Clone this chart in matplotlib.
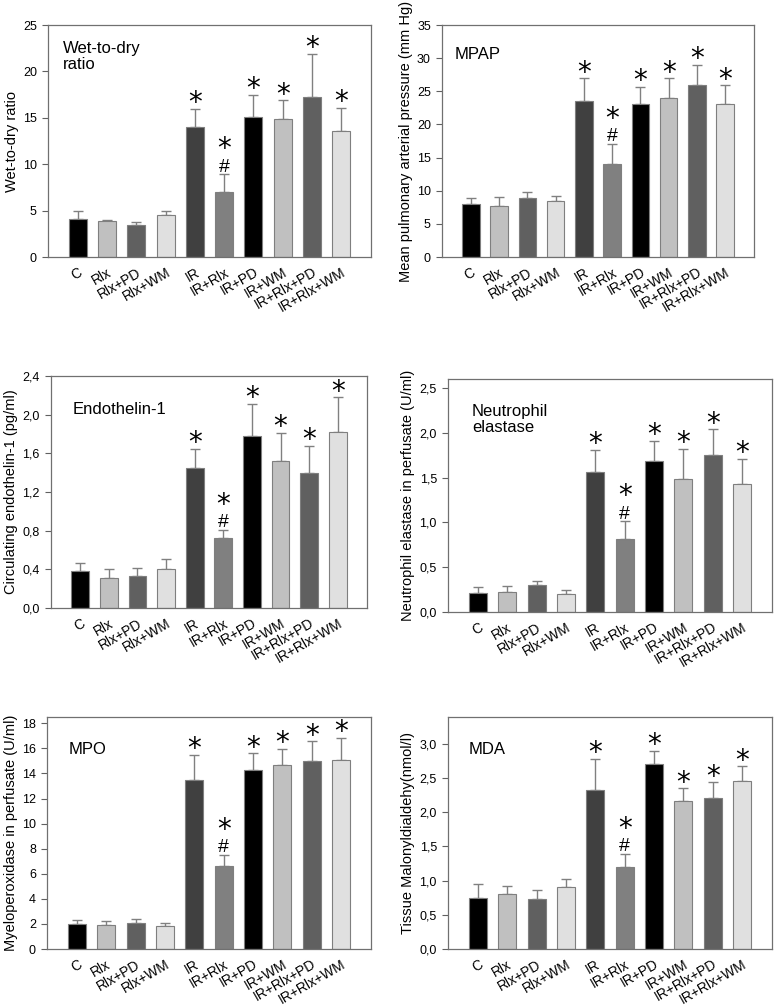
import numpy as np
import matplotlib
matplotlib.use("Agg")
import matplotlib.pyplot as plt
from matplotlib.ticker import FuncFormatter

plt.rcParams["font.family"] = ["Liberation Sans", "DejaVu Sans"]

groups = ["C", "Rlx", "Rlx+PD", "Rlx+WM", "IR", "IR+Rlx", "IR+PD", "IR+WM",
          "IR+Rlx+PD", "IR+Rlx+WM"]
colors = ["#000000", "#c0c0c0", "#606060", "#e0e0e0", "#404040", "#808080",
          "#000000", "#c0c0c0", "#606060", "#e0e0e0"]
stars = [0, 0, 0, 0, 1, 1, 1, 1, 1, 1]
hashes = [0, 0, 0, 0, 0, 1, 0, 0, 0, 0]

wet_dry = [4.1, 3.84, 3.41, 4.49, 14.0, 6.97, 15.1, 14.9, 17.2, 13.6]
wet_dry_err = [0.82, 0.16, 0.33, 0.47, 2.0, 1.93, 2.4, 2.0, 4.7, 2.5]

mpap = [8.0, 7.65, 8.95, 8.4, 23.6, 14.0, 23.1, 23.95, 25.95, 23.05]
mpap_err = [0.85, 1.35, 0.9, 0.8, 3.37, 3.1, 2.6, 3.0, 3.0, 2.85]

et1 = [0.38, 0.31, 0.33, 0.40, 1.45, 0.72, 1.78, 1.52, 1.40, 1.82]
et1_err = [0.085, 0.09, 0.08, 0.11, 0.20, 0.09, 0.33, 0.29, 0.275, 0.36]

elastase = [0.21, 0.22, 0.30, 0.20, 1.56, 0.82, 1.69, 1.48, 1.75, 1.43]
elastase_err = [0.07, 0.07, 0.05, 0.04, 0.25, 0.19, 0.22, 0.34, 0.29, 0.28]

mpo = [2.02, 1.94, 2.10, 1.86, 13.5, 6.58, 14.3, 14.7, 15.0, 15.1]
mpo_err = [0.32, 0.32, 0.29, 0.18, 1.97, 0.93, 1.3, 1.27, 1.56, 1.72]

mda = [0.75, 0.80, 0.73, 0.91, 2.32, 1.20, 2.70, 2.16, 2.20, 2.45]
mda_err = [0.20, 0.12, 0.135, 0.12, 0.46, 0.19, 0.20, 0.19, 0.235, 0.22]

W, H = 775, 1007


def rect(x0, x1, y0, y1):
    return [x0 / W, 1 - y1 / H, (x1 - x0) / W, (y1 - y0) / H]


def comma(v, pos):
    return f"{v:.1f}".replace(".", ",")


panels = [
    # (rect, values, errors, ylim, ystep, comma fmt, ylabel, title, title pos)
    (rect(48, 371, 25, 257), wet_dry, wet_dry_err, 25, 5, False,
     "Wet-to-dry ratio", "Wet-to-dry\nratio", (0.046, 0.93)),
    (rect(442, 754, 25, 257), mpap, mpap_err, 35, 5, False,
     "Mean pulmonary arterial pressure (mm Hg)", "MPAP", (0.04, 0.905)),
    (rect(51, 367, 376, 608), et1, et1_err, 2.4, 0.4, True,
     "Circulating endothelin-1 (pg/ml)", "Endothelin-1", (0.07, 0.89)),
    (rect(448, 772, 379, 612), elastase, elastase_err, 2.6, 0.5, True,
     "Neutrophil elastase in perfusate (U/ml)", "Neutrophil\nelastase", (0.074, 0.893)),
    (rect(47, 371, 717, 949), mpo, mpo_err, 18.5, 2, False,
     "Myeloperoxidase in perfusate (U/ml)", "MPO", (0.068, 0.892)),
    (rect(448, 772, 717, 949), mda, mda_err, 3.39, 0.5, True,
     "Tissue Malonyldialdehy(nmol/l)", "MDA", (0.065, 0.892)),
]

fig = plt.figure(figsize=(W / 100, H / 100), dpi=100)
x = np.arange(len(groups))

for r, vals, errs, ytop, ystep, use_comma, ylabel, title, tpos in panels:
    ax = fig.add_axes(r)
    ax.bar(x, vals, width=0.62, color=colors, edgecolor="#7f7f7f", linewidth=0.8,
           zorder=2)
    ax.errorbar(x, vals, yerr=[np.zeros(len(vals)), errs], fmt="none",
                ecolor="#808080", elinewidth=1, capsize=3.5, capthick=1, zorder=1)
    ax.set_xlim(-1.02, 10.02)
    ax.set_ylim(0, ytop)
    ax.set_yticks(np.arange(0, ytop + 1e-6, ystep))
    if use_comma:
        ax.yaxis.set_major_formatter(FuncFormatter(comma))
    ax.set_xticks(x)
    ax.set_xticklabels(groups, rotation=30, ha="right", rotation_mode="anchor",
                       fontsize=10)
    ax.tick_params(axis="x", length=0, pad=6)
    ax.tick_params(axis="y", labelsize=9, length=4, width=0.8, color="#606060",
                   pad=4)
    for s in ax.spines.values():
        s.set_color("#707070")
        s.set_linewidth(0.9)
    ax.set_ylabel(ylabel, fontsize=10.5, labelpad=3)
    ax.text(tpos[0], tpos[1], title, transform=ax.transAxes, fontsize=12,
            va="top", ha="left", linespacing=1.1)
    for i in range(len(groups)):
        top = vals[i] + errs[i]
        off = 0
        if hashes[i]:
            ax.annotate("#", (x[i], top), xytext=(0, -1), textcoords="offset points",
                        ha="center", va="bottom", fontsize=14)
            off = 14
        if stars[i]:
            ax.annotate("*", (x[i], top), xytext=(0, off - 6), textcoords="offset points",
                        ha="center", va="bottom", fontsize=20,
                        family="DejaVu Sans")

fig.savefig("out.png", dpi=100)
